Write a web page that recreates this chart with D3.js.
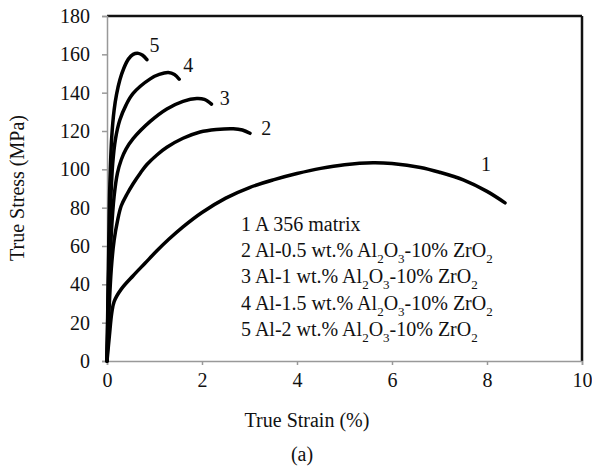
<!DOCTYPE html>
<html>
<head>
<meta charset="utf-8">
<script src="https://cdn.jsdelivr.net/npm/d3@7"></script>
<style>
body { margin: 0; background: #fff; }
svg text { font-family: "Liberation Serif", "Times New Roman", serif; fill: #111; }
</style>
</head>
<body>
<svg id="chart" width="592" height="466"></svg>
<script>
// strain (%) / stress (MPa)
var curve1 = [[0,0],[0.05,13],[0.1,25],[0.15,31],[0.3,37.5],[0.55,44.5],[0.8,51],[1.05,57.5],[1.3,63.5],[1.6,70],[2,77.5],[2.5,85],[3,90.5],[3.5,94.5],[4,97.8],[4.5,100.5],[5,102.4],[5.6,103.4],[6,103],[6.6,101],[7,98.5],[7.5,94.5],[8,88.5],[8.38,82.5]];
var curve2 = [[0,0],[0.04,25],[0.09,48],[0.15,63],[0.22,73],[0.3,81],[0.42,87],[0.55,92.5],[0.7,98],[0.84,102.5],[1.05,107.5],[1.26,111.5],[1.6,116.2],[1.96,119.5],[2.3,120.8],[2.66,121.2],[2.85,120.5],[3.01,118.8]];
var curve3 = [[0,0],[0.04,35],[0.09,66],[0.15,86],[0.22,98],[0.3,105],[0.4,110.5],[0.55,116],[0.91,125],[1.26,131.5],[1.6,135.5],[1.89,137],[2.05,136.5],[2.2,134]];
var curve4 = [[0,0],[0.03,40],[0.07,78],[0.12,103],[0.18,116],[0.27,125.7],[0.4,133.5],[0.55,139.6],[0.91,147.2],[1.1,149.5],[1.29,150.5],[1.42,149.5],[1.52,147]];
var curve5 = [[0,0],[0.03,50],[0.06,92],[0.1,117],[0.15,131],[0.2,139],[0.27,146.6],[0.35,152.5],[0.45,157.5],[0.55,160],[0.66,160.5],[0.75,159.5],[0.84,157.2]];

var curves = [curve1, curve2, curve3, curve4, curve5];
var curveIds = ["1", "2", "3", "4", "5"];
// label anchor in data units (strain, stress)
var labelPos = [[7.98, 103], [3.35, 121.5], [2.48, 137], [1.71, 154.5], [1.0, 165]];

var xTicks = [0, 2, 4, 6, 8, 10];
var yTicks = [0, 20, 40, 60, 80, 100, 120, 140, 160, 180];
var alloyWt = ["0.5", "1", "1.5", "2"];

var FS = "20px";
var svg = d3.select("#chart");
var x = d3.scaleLinear().domain([0, 10]).range([107, 582]);
var y = d3.scaleLinear().domain([0, 180]).range([361, 16]);

// frame: top/right black
svg.append("line").attr("x1", 107).attr("x2", 582).attr("y1", 16).attr("y2", 16)
    .style("stroke", "#111").style("stroke-width", 2.5);
svg.append("line").attr("x1", 582).attr("x2", 582).attr("y1", 16).attr("y2", 361)
    .style("stroke", "#111").style("stroke-width", 2.5);

var xAxis = svg.append("g").attr("transform", "translate(0,361)")
    .call(d3.axisBottom(x).tickValues(xTicks).tickSize(4).tickPadding(8));
var yAxis = svg.append("g").attr("transform", "translate(107,0)")
    .call(d3.axisLeft(y).tickValues(yTicks).tickSize(5).tickPadding(12));
[xAxis, yAxis].forEach(function(a) {
    a.select(".domain").style("stroke", "#999").style("stroke-width", 1.5);
    a.selectAll(".tick line").style("stroke", "#999").style("stroke-width", 1.5);
    a.selectAll(".tick text").style("font-size", FS)
        .style("font-family", "Liberation Serif").style("fill", "#111");
});

var line = d3.line()
    .x(function(d) { return x(d[0]); })
    .y(function(d) { return y(d[1]); })
    .curve(d3.curveCatmullRom.alpha(0.5));

svg.append("g").selectAll("path")
    .data(curves)
    .enter()
    .append("path")
    .attr("d", line)
    .style("fill", "none")
    .style("stroke", "#000")
    .style("stroke-width", 3.5)
    .style("stroke-linecap", "round");

svg.append("g").selectAll("text")
    .data(curveIds)
    .enter()
    .append("text")
    .attr("x", function(d, i) { return x(labelPos[i][0]); })
    .attr("y", function(d, i) { return y(labelPos[i][1]); })
    .attr("text-anchor", "middle")
    .attr("dy", "0.35em")
    .style("font-size", FS)
    .text(function(d) { return d; });

// legend
var leg = svg.append("g").style("font-size", FS);
leg.append("text").attr("x", 241).attr("y", 231).text("1 A 356 matrix");
alloyWt.forEach(function(w, i) {
    var t = leg.append("text").attr("x", 241).attr("y", 257 + i * 26.3);
    t.append("tspan").text((i + 2) + " Al-" + w + " wt.% Al");
    t.append("tspan").attr("dy", 6).style("font-size", "13px").text("2");
    t.append("tspan").attr("dy", -6).text("O");
    t.append("tspan").attr("dy", 6).style("font-size", "13px").text("3");
    t.append("tspan").attr("dy", -6).text("-10% ZrO");
    t.append("tspan").attr("dy", 6).style("font-size", "13px").text("2");
});

svg.append("text").attr("x", 307).attr("y", 427).attr("text-anchor", "middle")
    .style("font-size", FS).text("True Strain (%)");
svg.append("text").attr("transform", "translate(24,188) rotate(-90)")
    .attr("text-anchor", "middle").style("font-size", FS).text("True Stress (MPa)");
svg.append("text").attr("x", 302).attr("y", 461).attr("text-anchor", "middle")
    .style("font-size", FS).text("(a)");
</script>
</body>
</html>
